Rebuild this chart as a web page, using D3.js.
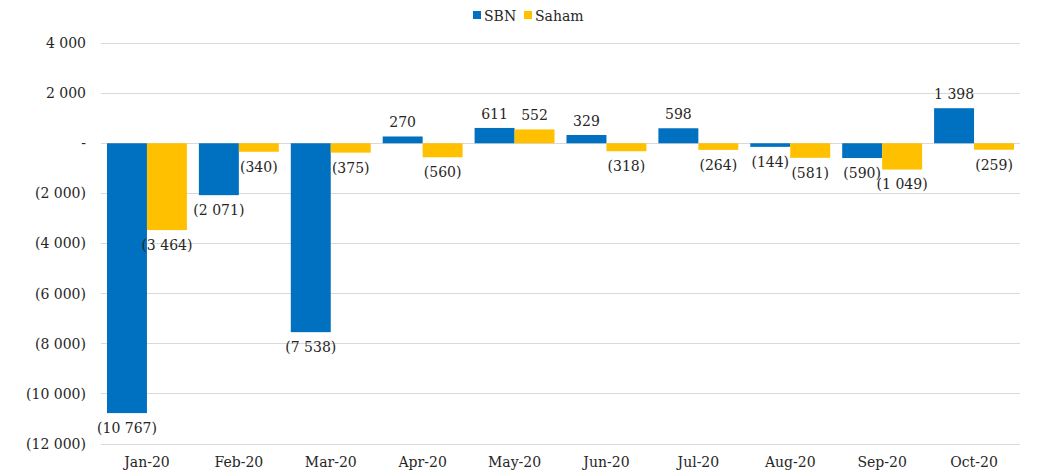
<!DOCTYPE html>
<html><head><meta charset="utf-8">
<script src="https://cdn.jsdelivr.net/npm/d3@7"></script>
<style>body{margin:0;background:#fff}svg{display:block}text{font-family:"DejaVu Serif",serif}</style>
</head><body><svg id="c" width="1041" height="476"></svg>
<script>
const categories = ["Jan-20","Feb-20","Mar-20","Apr-20","May-20","Jun-20","Jul-20","Aug-20","Sep-20","Oct-20"];
const seriesNames = ["SBN","Saham"];
const sbn = [-10767,-2071,-7538,270,611,329,598,-144,-590,1398];
const saham = [-3464,-340,-375,-560,552,-318,-264,-581,-1049,-259];
const yTicks = [4000,2000,0,-2000,-4000,-6000,-8000,-10000,-12000];
const colors = ["#0070C0","#FFC000"];

const svg = d3.select("#c");
const fontSize = 14;
const x0 = d3.scaleBand().domain(categories).range([101,1020]).padding(0);
const x1 = d3.scaleBand().domain(seriesNames).range([0,x0.bandwidth()]).paddingInner(0).paddingOuter(0.15);
const y = d3.scaleLinear().domain([-12000,4000]).range([444,43]);

const fmtNum = v => {
  if (v === 0) return "-";
  const s = d3.format(",")(Math.abs(v)).replace(/,/g," ");
  return v < 0 ? "(" + s + ")" : s;
};

// grid
svg.append("g").selectAll("line").data(yTicks).join("line")
  .attr("x1",101).attr("x2",1020).attr("y1",d=>y(d)).attr("y2",d=>y(d))
  .attr("stroke","#d9d9d9").attr("stroke-width",1).attr("shape-rendering","crispEdges");

// y axis labels
const yAxis = d3.axisLeft(y).tickValues(yTicks).tickFormat(fmtNum).tickSize(0).tickPadding(0);
const ga = svg.append("g").attr("transform","translate(86,0)").call(yAxis);
ga.select(".domain").remove();
ga.selectAll("text").attr("font-family","DejaVu Serif").attr("font-size",fontSize).attr("fill","#262626");

// x axis labels
const xAxis = d3.axisBottom(x0).tickSize(0).tickPadding(0);
const gx = svg.append("g").attr("transform","translate(0,457)").call(xAxis);
gx.select(".domain").remove();
gx.selectAll("text").attr("font-family","DejaVu Serif").attr("font-size",fontSize).attr("fill","#262626");

const data = categories.map((c,i)=>({c, vals:[{s:"SBN",v:sbn[i]},{s:"Saham",v:saham[i]}]}));
const groups = svg.append("g").selectAll("g").data(data).join("g")
  .attr("transform",d=>`translate(${x0(d.c)},0)`);
groups.selectAll("rect").data(d=>d.vals).join("rect")
  .attr("x",d=>x1(d.s)).attr("width",x1.bandwidth())
  .attr("y",d=>y(Math.max(0,d.v))).attr("height",d=>Math.abs(y(d.v)-y(0)))
  .attr("fill",(d,i)=>colors[i]);
groups.selectAll("text").data(d=>d.vals).join("text")
  .attr("x",d=>x1(d.s)+x1.bandwidth()/2)
  .attr("y",d=>d.v>=0 ? y(d.v)-14 : y(d.v)+15)
  .attr("dy","0.35em").attr("text-anchor","middle")
  .attr("font-size",fontSize).attr("fill","#262626")
  .text(d=>fmtNum(d.v));

// legend
const lg = svg.append("g").attr("transform","translate(473,16)");
const items = [{n:"SBN",x:0},{n:"Saham",x:51}];
items.forEach((it,i)=>{
  lg.append("rect").attr("x",it.x).attr("y",-5).attr("width",8).attr("height",8).attr("fill",colors[i]);
  lg.append("text").attr("x",it.x+11).attr("y",0).attr("dy","0.35em").attr("font-size",fontSize).attr("fill","#262626").text(it.n);
});
</script></body></html>
